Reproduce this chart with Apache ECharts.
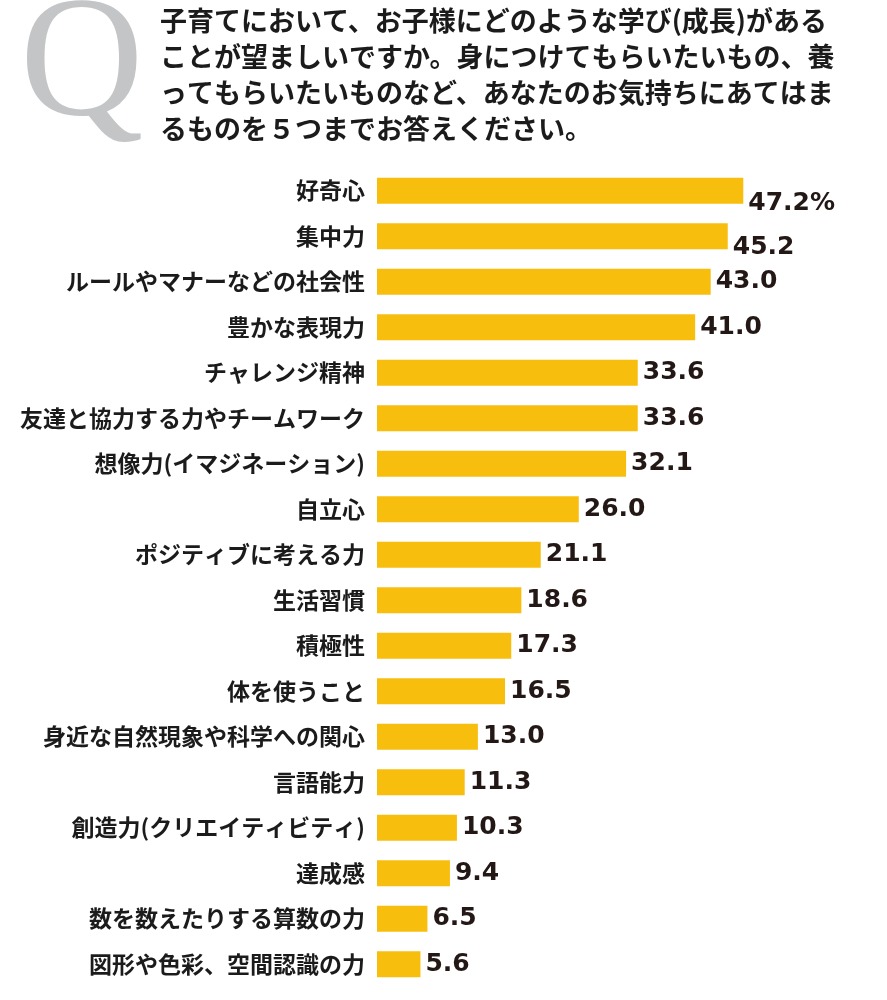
<!DOCTYPE html>
<html>
<head>
<meta charset="utf-8">
<style>
  html, body { margin: 0; padding: 0; background: #fff; }
  #chart { width: 887px; height: 1000px; }
</style>
<script src="https://cdn.jsdelivr.net/npm/echarts@6/dist/echarts.min.js"></script>
</head>
<body>
<div id="chart"></div>
<script>
// question text, split where the reference wraps it
const questionLines = [
  '子育てにおいて、お子様にどのような学び(成長)がある',
  'ことが望ましいですか。身につけてもらいたいもの、養',
  'ってもらいたいものなど、あなたのお気持ちにあてはま',
  'るものを５つまでお答えください。'
];

const categories = [
  '好奇心',
  '集中力',
  'ルールやマナーなどの社会性',
  '豊かな表現力',
  'チャレンジ精神',
  '友達と協力する力やチームワーク',
  '想像力(イマジネーション)',
  '自立心',
  'ポジティブに考える力',
  '生活習慣',
  '積極性',
  '体を使うこと',
  '身近な自然現象や科学への関心',
  '言語能力',
  '創造力(クリエイティビティ)',
  '達成感',
  '数を数えたりする算数の力',
  '図形や色彩、空間認識の力'
];

const values = [47.2, 45.2, 43.0, 41.0, 33.6, 33.6, 32.1, 26.0, 21.1, 18.6, 17.3, 16.5, 13.0, 11.3, 10.3, 9.4, 6.5, 5.6];

const BAR_COLOR = '#F8BE0E';
const TEXT_COLOR = '#1b1b1b';
const JP_FONT = '"Noto Sans CJK JP", "Noto Sans", sans-serif';

const chart = echarts.init(document.getElementById('chart'));

// the top two value labels sit a little lower than their bars in the original
const labelShift = [13, 11];

const seriesData = values.map((v, i) => {
  const item = { value: v };
  if (labelShift[i]) {
    item.label = { offset: [0, labelShift[i]] };
  }
  return item;
});

chart.setOption({
  animation: false,
  backgroundColor: '#ffffff',
  grid: {
    left: 377,
    top: 168,
    width: 388,
    height: 819
  },
  xAxis: {
    type: 'value',
    min: 0,
    max: 50,
    show: false
  },
  yAxis: {
    type: 'category',
    data: categories,
    inverse: true,
    axisLine: { show: false },
    axisTick: { show: false },
    axisLabel: {
      margin: 12,
      fontFamily: JP_FONT,
      fontWeight: 'bold',
      fontSize: 23,
      color: TEXT_COLOR
    }
  },
  series: [{
    type: 'bar',
    data: seriesData,
    barWidth: 26,
    itemStyle: { color: BAR_COLOR },
    label: {
      show: true,
      position: 'right',
      distance: 5,
      fontFamily: '"DejaVu Sans", Verdana, sans-serif',
      fontWeight: 'bold',
      fontSize: 25,
      color: '#231815',
      formatter: p => p.value.toFixed(1) + (p.dataIndex === 0 ? '%' : '')
    }
  }],
  graphic: [
    {
      type: 'text',
      left: 20,
      top: -16,
      style: {
        text: 'Q',
        fontFamily: '"Liberation Serif", "DejaVu Serif", serif',
        fontSize: 171,
        fill: '#c4c5c7'
      }
    },
    {
      type: 'text',
      left: 160,
      top: 3,
      style: {
        text: questionLines.join('\n'),
        fontFamily: JP_FONT,
        fontWeight: 'bold',
        fontSize: 27,
        lineHeight: 36,
        fill: TEXT_COLOR
      }
    }
  ]
});
</script>
</body>
</html>
